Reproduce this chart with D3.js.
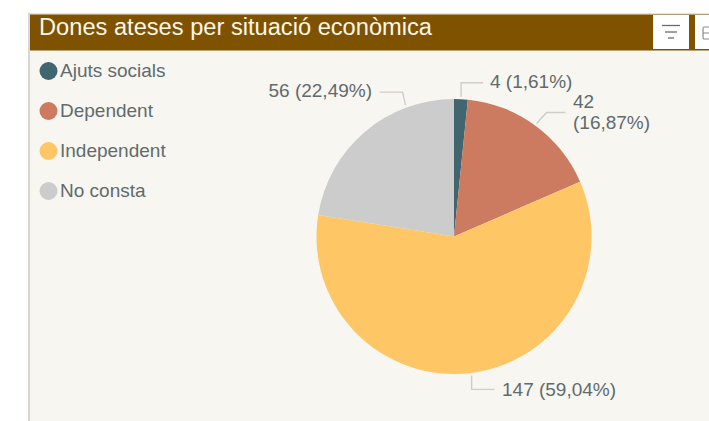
<!DOCTYPE html>
<html><head><meta charset="utf-8">
<script src="https://cdn.jsdelivr.net/npm/d3@7"></script>
<style>html,body{margin:0;padding:0;background:#fff;overflow:hidden}svg{display:block}text{font-family:"Liberation Sans",Arial,sans-serif}</style>
</head><body><svg id="c" width="709" height="421"></svg>
<script>
const categories=["Ajuts socials","Dependent","Independent","No consta"];
const values=[4,42,147,56];
const percentLabels=["1,61%","16,87%","59,04%","22,49%"];
const colours=["#41666F","#CC7A60","#FFC665","#CCCCCC"];
const title="Dones ateses per situació econòmica";

const svg=d3.select("#c");
svg.append("rect").attr("x",28).attr("y",13).attr("width",681).attr("height",408).attr("fill","#F8F6F1");
svg.append("rect").attr("x",28).attr("y",13).attr("width",681).attr("height",1.5).attr("fill","#E4E2DE");
svg.append("rect").attr("x",28).attr("y",13).attr("width",2).attr("height",408).attr("fill","#D8D6D2");
svg.append("rect").attr("x",30).attr("y",14.5).attr("width",679).attr("height",36).attr("fill","#7F5200");
svg.append("text").attr("x",39).attr("y",35).attr("font-size",23).attr("fill","#FBF6EA").attr("textLength",393).attr("lengthAdjust","spacingAndGlyphs").text(title);

// header buttons
svg.append("rect").attr("x",653).attr("y",15).attr("width",36).attr("height",34).attr("fill","#fff");
svg.append("rect").attr("x",695).attr("y",15).attr("width",14).attr("height",34).attr("fill","#fff");
[[662,680,25.5],[665,677,32],[668,674,38]].forEach(([a,b,y])=>svg.append("line").attr("x1",a).attr("x2",b).attr("y1",y).attr("y2",y).attr("stroke","#6b6b6b").attr("stroke-width",1.3));
svg.append("path").attr("d","M709 27H704Q703 27 703 29V37Q703 39 704 39H709M703 33H709").attr("fill","none").attr("stroke","#8a8a8a").attr("stroke-width",1.2);

// legend
const y=d3.scalePoint().domain(categories).range([71,191]);
const leg=svg.append("g").selectAll("g").data(categories).join("g").attr("transform",d=>`translate(0,${y(d)})`);
leg.append("circle").attr("cx",48.5).attr("r",9).attr("fill",(d,i)=>colours[i]);
leg.append("text").attr("x",60).attr("y",6).attr("font-size",19).attr("fill","#5F6B6D").text(d=>d);

// pie
const cx=454,cy=236.5,R=137.5;
const pie=d3.pie().sort(null).value(d=>d)(values);
const arc=d3.arc().innerRadius(0).outerRadius(R);
const g=svg.append("g").attr("transform",`translate(${cx},${cy})`);
g.selectAll("path").data(pie).join("path").attr("d",arc).attr("fill",(d,i)=>colours[i]);

// leader lines, anchored to a point along each slice's rim
const outer=d3.arc().innerRadius(R+2.5).outerRadius(R+2.5);
const anchor=[.5,.5,.5,.75];
const elbow=[[0,-14,22],[10,-11,19],[0,14,23],[-3,-13,-23]];
const lines=svg.append("g");
pie.forEach((p,i)=>{
  const a=p.startAngle+(p.endAngle-p.startAngle)*anchor[i];
  const [x0,y0]=outer.centroid({startAngle:a,endAngle:a});
  const sx=cx+x0, sy=cy+y0;
  const [ex,ey,h]=elbow[i];
  lines.append("path").attr("d",d3.line()([[sx,sy],[sx+ex,sy+ey],[sx+ex+h,sy+ey]]))
    .attr("fill","none").attr("stroke","#CFCDC9").attr("stroke-width",1.4);
});
const labels=[[490,88,"start"],[573,108,"start"],[502,396,"start"],[372,97,"end"]];
const ls=svg.append("g");
pie.forEach((p,i)=>{
  const [lx,ly,an]=labels[i];
  const t=ls.append("text").attr("x",lx).attr("y",ly).attr("font-size",19).attr("fill","#5F6B6D").attr("text-anchor",an);
  if(i===1){
    t.append("tspan").attr("x",lx).text(values[i]);
    t.append("tspan").attr("x",lx).attr("dy",21).text("("+percentLabels[i]+")");
  } else t.text(`${values[i]} (${percentLabels[i]})`);
});
</script></body></html>
